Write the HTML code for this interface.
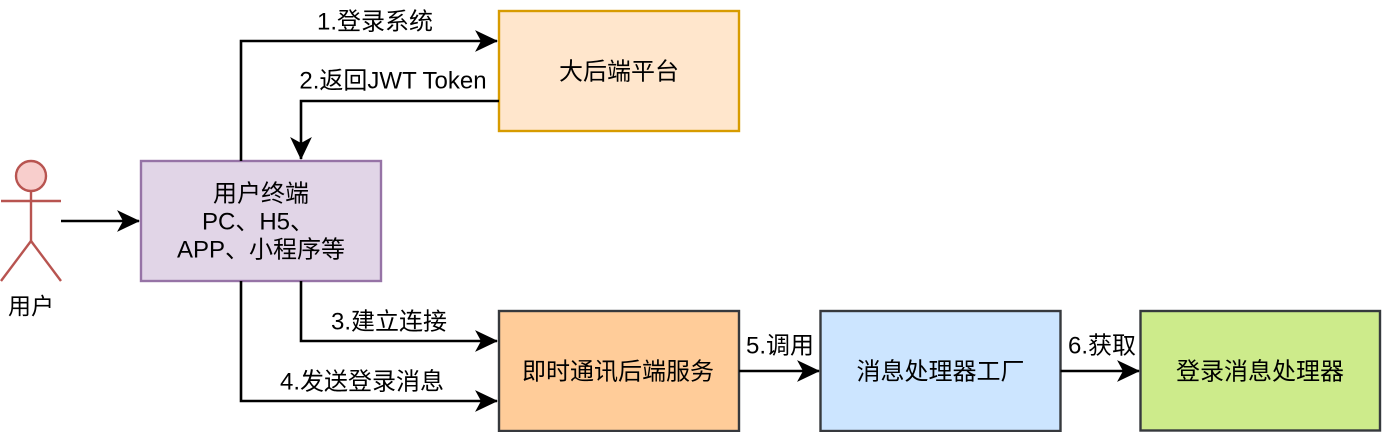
<!DOCTYPE html>
<html>
<head>
<meta charset="utf-8">
<style>
html,body{margin:0;padding:0;background:#fff;}
svg{display:block;}
text{font-family:"Liberation Sans","Noto Sans CJK SC",sans-serif;fill:#000;}
</style>
</head>
<body>
<svg width="1382" height="432" viewBox="0 0 1382 432" xmlns="http://www.w3.org/2000/svg">
<defs>
<marker id="ah" markerUnits="userSpaceOnUse" markerWidth="26" markerHeight="26" viewBox="0 0 26 26" refX="22" refY="13" orient="auto">
<path d="M22,13 L1,3 L6.5,13 L1,23 Z" fill="#000" stroke="#000" stroke-width="0.8" stroke-linejoin="miter"/>
</marker>
</defs>

<!-- boxes -->
<rect x="499" y="11" width="240" height="120" fill="#ffe6cc" stroke="#d79b00" stroke-width="2.4"/>
<text x="619" y="72" font-size="24" text-anchor="middle" dominant-baseline="central">大后端平台</text>

<rect x="141" y="161" width="240" height="120" fill="#e1d5e7" stroke="#9673a6" stroke-width="2.4"/>
<text x="261" y="194" font-size="24" text-anchor="middle" dominant-baseline="central">用户终端</text>
<text x="258" y="222" font-size="24" text-anchor="middle" dominant-baseline="central">PC、H5、</text>
<text x="261" y="250" font-size="24" text-anchor="middle" dominant-baseline="central">APP、小程序等</text>

<rect x="499" y="311" width="240" height="120" fill="#ffcc99" stroke="#36393d" stroke-width="2.4"/>
<text x="618" y="372" font-size="24" text-anchor="middle" dominant-baseline="central">即时通讯后端服务</text>

<rect x="820.5" y="311" width="240" height="120" fill="#cce5ff" stroke="#36393d" stroke-width="2.4"/>
<text x="940.5" y="372" font-size="24" text-anchor="middle" dominant-baseline="central">消息处理器工厂</text>

<rect x="1140.5" y="311" width="239.5" height="119.5" fill="#cdeb8b" stroke="#36393d" stroke-width="2.4"/>
<text x="1260" y="372" font-size="24" text-anchor="middle" dominant-baseline="central">登录消息处理器</text>

<!-- actor -->
<g stroke="#b85450" stroke-width="2.4" fill="none">
<circle cx="31" cy="176" r="15" fill="#f8cecc"/>
<line x1="1" y1="201" x2="61" y2="201"/>
<line x1="31" y1="191" x2="31" y2="241"/>
<line x1="31" y1="241" x2="1" y2="281"/>
<line x1="31" y1="241" x2="61" y2="281"/>
</g>
<text x="31" y="306" font-size="23" text-anchor="middle" dominant-baseline="central">用户</text>

<!-- connectors -->
<g stroke="#000" stroke-width="2.6" fill="none">
<line x1="61" y1="221" x2="139" y2="221" marker-end="url(#ah)"/>
<polyline points="241,161 241,41 497,41" marker-end="url(#ah)"/>
<polyline points="499,101 301,101 301,159" marker-end="url(#ah)"/>
<polyline points="301,281 301,341 497,341" marker-end="url(#ah)"/>
<polyline points="241,281 241,401 497,401" marker-end="url(#ah)"/>
<line x1="739" y1="371" x2="819" y2="371" marker-end="url(#ah)"/>
<line x1="1060.5" y1="371" x2="1139" y2="371" marker-end="url(#ah)"/>
</g>

<!-- labels -->
<text x="375" y="22" font-size="24" text-anchor="middle" dominant-baseline="central">1.登录系统</text>
<text x="393" y="81" font-size="24" text-anchor="middle" dominant-baseline="central">2.返回JWT Token</text>
<text x="389" y="322" font-size="24" text-anchor="middle" dominant-baseline="central">3.建立连接</text>
<text x="362" y="382" font-size="24" text-anchor="middle" dominant-baseline="central">4.发送登录消息</text>
<text x="780" y="346" font-size="24" text-anchor="middle" dominant-baseline="central">5.调用</text>
<text x="1102" y="346" font-size="24" text-anchor="middle" dominant-baseline="central">6.获取</text>
</svg>
</body>
</html>
